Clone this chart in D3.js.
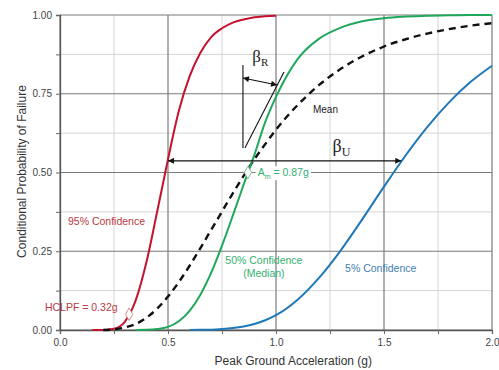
<!DOCTYPE html>
<html>
<head>
<meta charset="utf-8">
<script src="https://cdn.jsdelivr.net/npm/d3@7"></script>
<style>
  body { margin: 0; background: #fff; }
  svg { display: block; font-family: "Liberation Sans", Arial, sans-serif; }
</style>
</head>
<body>
<svg id="chart"></svg>
<script>
var margin = {top: 15, right: 7, bottom: 40, left: 60},
    width = 499 - margin.left - margin.right,
    height = 370 - margin.top - margin.bottom;

// Data
var pga =      [0.15, 0.2, 0.25, 0.3, 0.35, 0.4, 0.45, 0.5, 0.55, 0.6, 0.65, 0.7, 0.75, 0.8, 0.85, 0.9, 0.95, 1.0, 1.1, 1.2, 1.3, 1.4, 1.5, 1.6, 1.7, 1.8, 1.9, 2.0];
var conf95 =   [0, 0.0003, 0.004, 0.026, 0.093, 0.215, 0.376, 0.542, 0.695, 0.805, 0.88, 0.93, 0.958, 0.976, 0.986, 0.993, 0.996, 0.998, null, null, null, null, null, null, null, null, null, null];
var median50 = [null, null, null, null, 0, 0.0006, 0.003, 0.010, 0.028, 0.061, 0.112, 0.182, 0.268, 0.363, 0.461, 0.556, 0.66, 0.74, 0.86, 0.925, 0.96, 0.98, 0.99, 0.995, 0.998, 0.999, 1.0, 1.0];
var conf5 =    [null, null, null, null, null, null, null, null, null, 0, 0.0004, 0.001, 0.003, 0.006, 0.011, 0.019, 0.031, 0.047, 0.096, 0.166, 0.253, 0.352, 0.455, 0.554, 0.644, 0.722, 0.787, 0.839];
var meanCurve = [null, 0, 0.002, 0.008, 0.019, 0.039, 0.068, 0.106, 0.152, 0.204, 0.26, 0.318, 0.376, 0.434, 0.489, 0.542, 0.59, 0.636, 0.714, 0.778, 0.829, 0.869, 0.90, 0.923, 0.941, 0.955, 0.966, 0.974];

var hclpf = [0.32, 0.05];
var amPoint = [0.87, 0.5];
var xTicks = [0, 0.25, 0.5, 0.75, 1.0, 1.25, 1.5, 1.75, 2.0];
var yTicks = [0, 0.125, 0.25, 0.375, 0.5, 0.625, 0.75, 0.875, 1.0];

var svg = d3.select("#chart")
    .attr("width", width + margin.left + margin.right)
    .attr("height", height + margin.top + margin.bottom)
    .append("g")
    .attr("transform", "translate(" + margin.left + "," + margin.top + ")");

var x = d3.scaleLinear().domain([0, 2]).range([0, width]);
var y = d3.scaleLinear().domain([0, 1]).range([height, 0]);

function isMajorX(v) { return Math.abs(v / 0.5 - Math.round(v / 0.5)) < 1e-6; }
function isMajorY(v) { return Math.abs(v / 0.25 - Math.round(v / 0.25)) < 1e-6; }

// grid: minor first, major on top
var grid = svg.append("g");
grid.selectAll(".vx").data(xTicks.filter(function(d){ return !isMajorX(d); }))
    .join("line")
    .attr("x1", function(d){ return x(d); }).attr("x2", function(d){ return x(d); })
    .attr("y1", 0).attr("y2", height)
    .attr("stroke", "#d4d4d4").attr("stroke-width", 1);
grid.selectAll(".hy").data(yTicks.filter(function(d){ return !isMajorY(d); }))
    .join("line")
    .attr("y1", function(d){ return y(d); }).attr("y2", function(d){ return y(d); })
    .attr("x1", 0).attr("x2", width)
    .attr("stroke", "#d4d4d4").attr("stroke-width", 1);
grid.append("g").selectAll("line").data(xTicks.filter(isMajorX))
    .join("line")
    .attr("x1", function(d){ return x(d); }).attr("x2", function(d){ return x(d); })
    .attr("y1", 0).attr("y2", height)
    .attr("stroke", "#7a7a7a").attr("stroke-width", 1.2);
grid.append("g").selectAll("line").data(yTicks.filter(isMajorY))
    .join("line")
    .attr("y1", function(d){ return y(d); }).attr("y2", function(d){ return y(d); })
    .attr("x1", 0).attr("x2", width)
    .attr("stroke", "#7a7a7a").attr("stroke-width", 1.2);

// axes
var xAxis = d3.axisBottom(x).tickValues(xTicks).tickSize(4).tickPadding(5)
    .tickFormat(function(d){ return isMajorX(d) ? d3.format(".1f")(d) : ""; });
var yAxis = d3.axisLeft(y).tickValues(yTicks).tickSize(4).tickPadding(4)
    .tickFormat(function(d){ return isMajorY(d) ? d3.format(".2f")(d) : ""; });

var gx = svg.append("g").attr("transform", "translate(0," + height + ")").call(xAxis);
var gy = svg.append("g").call(yAxis);
[gx, gy].forEach(function(g){
    g.select(".domain").attr("stroke", "#555").attr("stroke-width", 1.3);
    g.selectAll(".tick line").attr("stroke", "#666");
    g.selectAll(".tick text").attr("fill", "#444").style("font-size", "10px")
        .style("font-family", "'Liberation Sans', Arial, sans-serif");
});

// axis titles
svg.append("text")
    .attr("x", x(1.08)).attr("y", height + 35)
    .attr("text-anchor", "middle")
    .style("font-size", "12px").attr("fill", "#333")
    .text("Peak Ground Acceleration (g)");
svg.append("text")
    .attr("transform", "translate(" + (-34) + "," + (y(0.5) - 1) + ") rotate(-90)")
    .attr("text-anchor", "middle")
    .style("font-size", "12px").attr("fill", "#333")
    .text("Conditional Probability of Failure");

// curves
var line = d3.line()
    .defined(function(d){ return d[1] != null; })
    .x(function(d){ return x(d[0]); })
    .y(function(d){ return y(d[1]); })
    .curve(d3.curveMonotoneX);

function series(vals) { return pga.map(function(p, i){ return [p, vals[i]]; }); }

svg.append("path").datum(series(conf5))
    .attr("d", line).attr("fill", "none").attr("stroke", "#1f78b8").attr("stroke-width", 2);
svg.append("path").datum(series(conf95))
    .attr("d", line).attr("fill", "none").attr("stroke", "#c4122f").attr("stroke-width", 2);
svg.append("path").datum(series(meanCurve))
    .attr("d", line).attr("fill", "none").attr("stroke", "#111").attr("stroke-width", 2.4)
    .attr("stroke-dasharray", "7,5");
svg.append("path").datum(series(median50))
    .attr("d", line).attr("fill", "none").attr("stroke", "#1fa85c").attr("stroke-width", 2);

// arrowheads
var defs = d3.select("#chart").append("defs");
defs.append("marker")
    .attr("id", "arrow")
    .attr("viewBox", "0 0 10 10")
    .attr("refX", 10).attr("refY", 5)
    .attr("markerWidth", 10).attr("markerHeight", 6)
    .attr("markerUnits", "userSpaceOnUse")
    .attr("orient", "auto-start-reverse")
    .append("path").attr("d", "M0,0L10,5L0,10Z").attr("fill", "#111");

var ann = svg.append("g").attr("stroke", "#111").attr("stroke-width", 1.1).attr("fill", "none");

// beta U arrow between 95% and 5% curves
ann.append("line")
    .attr("x1", x(0.50)).attr("y1", y(0.537))
    .attr("x2", x(1.58)).attr("y2", y(0.537))
    .attr("marker-start", "url(#arrow)").attr("marker-end", "url(#arrow)");

// beta R construction
ann.append("line")
    .attr("x1", x(0.847)).attr("y1", y(0.841))
    .attr("x2", x(0.847)).attr("y2", y(0.578));
ann.append("line")
    .attr("x1", x(0.856)).attr("y1", y(0.578))
    .attr("x2", x(1.037)).attr("y2", y(0.819));
ann.append("line")
    .attr("x1", x(0.847)).attr("y1", y(0.80))
    .attr("x2", x(1.005)).attr("y2", y(0.778))
    .attr("marker-start", "url(#arrow)").attr("marker-end", "url(#arrow)");

// Greek labels
var bR = svg.append("text").attr("x", x(0.89)).attr("y", y(0.851))
    .style("font-family", "'Liberation Serif', 'Times New Roman', serif")
    .style("font-size", "17px").attr("fill", "#222");
bR.append("tspan").text("β");
bR.append("tspan").attr("dy", 4).style("font-size", "11px").text("R");

var bU = svg.append("text").attr("x", x(1.262)).attr("y", y(0.565))
    .style("font-family", "'Liberation Serif', 'Times New Roman', serif")
    .style("font-size", "18px").attr("fill", "#222");
bU.append("tspan").text("β");
bU.append("tspan").attr("dy", 4).style("font-size", "12px").text("U");

// text labels
function label(t, px, py, color, anchor) {
    return svg.append("text").attr("x", x(px)).attr("y", y(py))
        .attr("text-anchor", anchor || "start")
        .style("font-size", "10.5px").attr("fill", color).text(t);
}
label("Mean", 1.171, 0.689, "#222").style("font-size", "10px");
label("95% Confidence", 0.037, 0.333, "#b83a44");
label("50% Confidence", 0.944, 0.21, "#35b070", "middle");
label("(Median)", 0.944, 0.168, "#35b070", "middle");
label("5% Confidence", 1.32, 0.184, "#3f80b6");

// HCLPF label + marker
var hc = label("HCLPF = 0.32g", -0.07, 0.06, "#b83a44");

// Am label with white box over the gridline
var amText = svg.append("text")
    .attr("x", x(0.915)).attr("y", y(0.5)).attr("dy", "0.35em")
    .style("font-size", "10.5px").attr("fill", "#35b070");
amText.append("tspan").text("A");
amText.append("tspan").attr("dy", "3").style("font-size", "7px").text("m");
amText.append("tspan").attr("dy", "-3").text(" = 0.87g");
var bb = amText.node().getBBox();
svg.insert("rect", function(){ return amText.node(); })
    .attr("x", bb.x - 2).attr("y", bb.y).attr("width", bb.width + 4).attr("height", bb.height)
    .attr("fill", "#fff");

var diamond = d3.symbol().type(d3.symbolDiamond).size(45);
svg.append("path").attr("d", diamond)
    .attr("transform", "translate(" + x(amPoint[0]) + "," + y(amPoint[1]) + ")")
    .attr("fill", "#fff").attr("stroke", "#7fb89a").attr("stroke-width", 1);
svg.append("path").attr("d", diamond)
    .attr("transform", "translate(" + x(hclpf[0]) + "," + y(hclpf[1]) + ")")
    .attr("fill", "#fff").attr("stroke", "#d08a90").attr("stroke-width", 1);
</script>
</body>
</html>
